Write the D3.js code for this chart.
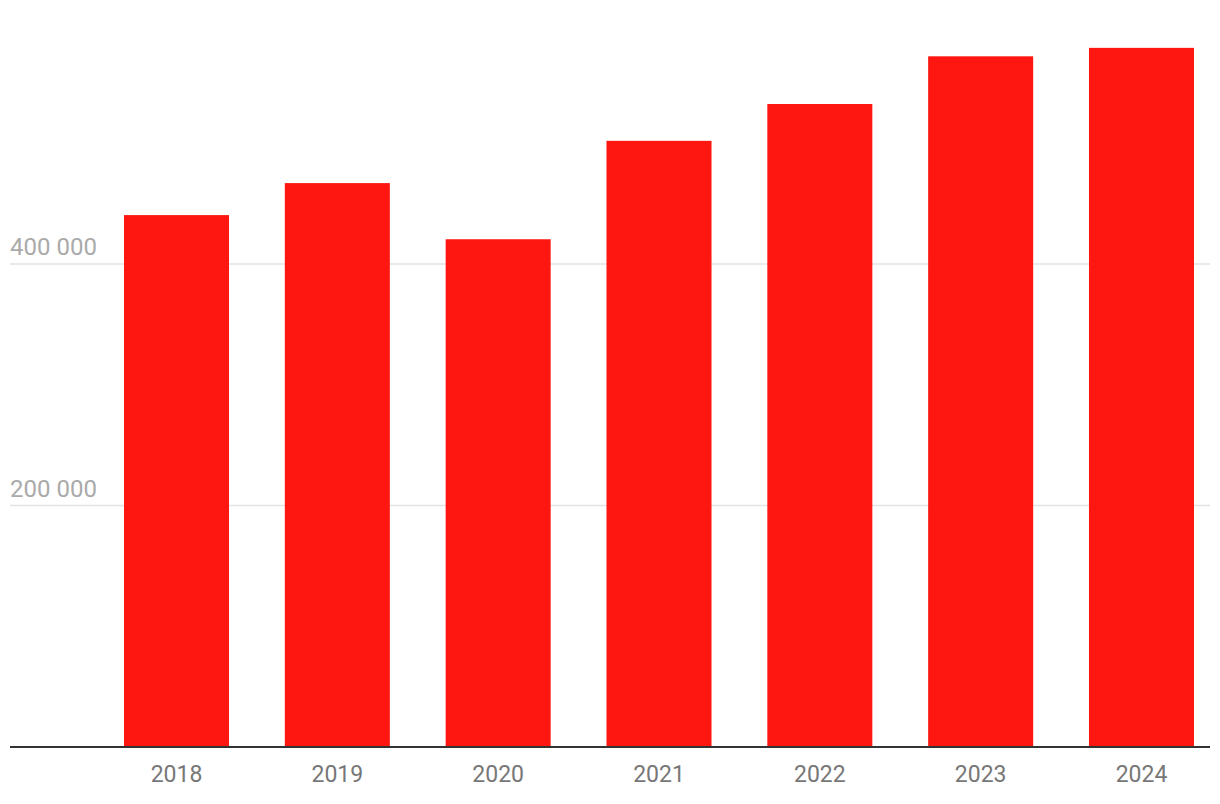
<!DOCTYPE html>
<html><head><meta charset="utf-8">
<script src="https://cdn.jsdelivr.net/npm/d3@7"></script>
<style>body{margin:0;background:#fff;font-family:Roboto,sans-serif}</style>
</head><body>
<svg id="c" width="1220" height="804"></svg>
<script>
const years = ["2018","2019","2020","2021","2022","2023","2024"];
const values = [440500, 467000, 420500, 502000, 532500, 572000, 579000];
const yTicks = [200000, 400000];

const svg = d3.select("#c");
const y = d3.scaleLinear().domain([0, 200000]).range([747, 505.5]);
const x = d3.scaleBand().domain(years).range([124, 1194]).paddingInner(0.347).paddingOuter(0);
const fmt = v => d3.format(",")(v).replace(/,/g, " ");

// gridlines
svg.append("g").selectAll("line").data(yTicks).join("line")
  .attr("x1", 10).attr("x2", 1210)
  .attr("y1", d => y(d)).attr("y2", d => y(d))
  .attr("stroke", "#e3e3e3").attr("stroke-width", 1.5);

svg.append("g").selectAll("text").data(yTicks).join("text")
  .attr("x", 10).attr("y", d => y(d) - 9)
  .attr("font-size", 24).attr("fill", "#aaaaaa")
  .text(fmt);

// bars
svg.append("g").selectAll("rect").data(values).join("rect")
  .attr("x", (d,i) => x(years[i]))
  .attr("width", x.bandwidth())
  .attr("y", d => y(d))
  .attr("height", d => y(0) - y(d))
  .attr("fill", "#fe1710");

// axis line
svg.append("line").attr("x1", 10).attr("x2", 1210)
  .attr("y1", y(0)).attr("y2", y(0))
  .attr("stroke", "#333").attr("stroke-width", 2);

// x labels
svg.append("g").selectAll("text").data(years).join("text")
  .attr("x", d => x(d) + x.bandwidth()/2)
  .attr("y", 782)
  .attr("text-anchor", "middle")
  .attr("font-size", 23).attr("fill", "#777")
  .text(d => d);
</script>
</body></html>
